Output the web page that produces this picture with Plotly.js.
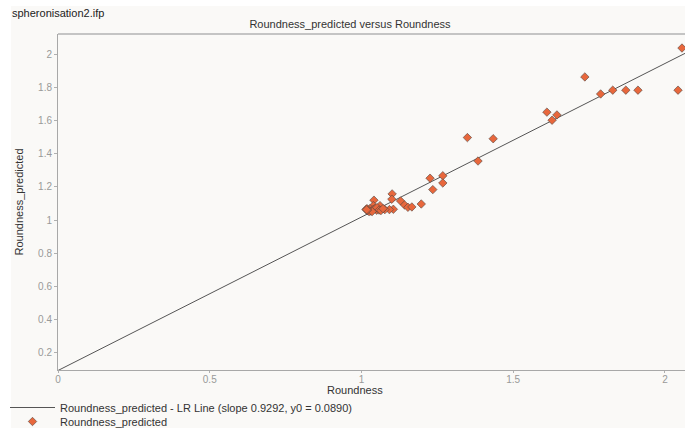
<!DOCTYPE html>
<html>
<head>
<meta charset="utf-8">
<script src="https://cdn.plot.ly/plotly-3.0.1.min.js"></script>
<style>html,body{margin:0;padding:0;background:#fff;}#chart{width:685px;height:428px;}</style>
</head>
<body>
<div id="chart"></div>
<script>
// Data
var roundness = [2.056, 2.043, 1.911, 1.871, 1.828, 1.788, 1.736, 1.644, 1.628, 1.611, 1.434, 1.349, 1.384, 1.268, 1.226, 1.268, 1.235, 1.197, 1.129, 1.101, 1.100, 1.142, 1.153, 1.166, 1.041, 1.105, 1.092, 1.077, 1.061, 1.039, 1.050, 1.015, 1.021, 1.028, 1.031, 1.038, 1.044, 1.051, 1.058, 1.064, 1.071, 1.025, 1.035, 1.018, 1.020, 1.017];
var roundnessPredicted = [2.041, 1.786, 1.786, 1.786, 1.786, 1.763, 1.866, 1.636, 1.604, 1.653, 1.492, 1.499, 1.357, 1.268, 1.253, 1.224, 1.184, 1.097, 1.115, 1.158, 1.126, 1.091, 1.077, 1.079, 1.120, 1.065, 1.063, 1.063, 1.087, 1.087, 1.059, 1.063, 1.057, 1.069, 1.054, 1.063, 1.069, 1.075, 1.060, 1.057, 1.069, 1.051, 1.051, 1.069, 1.060, 1.062];
var lrSlope = 0.9292;
var lrY0 = 0.0890;
var xRange = [0, 2.066];
var yRange = [0.092, 2.126];
var xTickVals = [0, 0.5, 1, 1.5, 2];
var xTickText = ['0', '0.5', '1', '1.5', '2'];
var yTickVals = [0.2, 0.4, 0.6, 0.8, 1, 1.2, 1.4, 1.6, 1.8, 2];
var yTickText = ['0.2', '0.4', '0.6', '0.8', '1', '1.2', '1.4', '1.6', '1.8', '2'];

var lineX = [xRange[0], xRange[1]];
var lineY = lineX.map(function (v) { return lrY0 + lrSlope * v; });

var FONT = 'Liberation Sans, Arial, sans-serif';

var traces = [
  {
    x: lineX, y: lineY, mode: 'lines', type: 'scatter',
    name: 'Roundness_predicted - LR Line (slope 0.9292, y0 = 0.0890)',
    legend: 'legend',
    line: {color: '#555555', width: 1}
  },
  {
    x: roundness, y: roundnessPredicted, mode: 'markers', type: 'scatter',
    name: 'Roundness_predicted',
    legend: 'legend2',
    cliponaxis: false,
    marker: {symbol: 'diamond', size: 6.5, color: '#e8673c', line: {color: 'rgba(80,70,65,0.85)', width: 0.7}}
  }
];

var W = 685, H = 428, L = 58, R = 0, T = 34, B = 58;
var pw = W - L - R, ph = H - T - B;
function px2x(p) { return (p - L) / pw; }
function py2y(p) { return (H - B - p) / ph; }

var legendBase = {
  xanchor: 'left', yanchor: 'top',
  bgcolor: 'rgba(0,0,0,0)', borderwidth: 0,
  font: {family: FONT, size: 11, color: '#333333'},
  itemwidth: 45
};

var layout = {
  width: W, height: H,
  margin: {l: L, r: R, t: T, b: B, pad: 0, autoexpand: false},
  paper_bgcolor: '#ffffff',
  plot_bgcolor: '#faf9f7',
  font: {family: FONT, size: 11, color: '#333333'},
  title: {text: 'Roundness_predicted versus Roundness', font: {family: FONT, size: 11, color: '#333333'},
          x: 350 / W, xref: 'container', xanchor: 'center', y: 1 - 24 / H, yref: 'container', yanchor: 'middle'},
  xaxis: {
    range: xRange, tickvals: xTickVals, ticktext: xTickText,
    showgrid: false, zeroline: false, showline: true, linecolor: '#a8a8a8', linewidth: 1,
    ticks: 'outside', ticklen: 2, tickcolor: '#b0b0b0', ticklabelstandoff: -2,
    tickfont: {family: FONT, size: 10, color: '#999999'}
  },
  yaxis: {
    range: yRange, tickvals: yTickVals, ticktext: yTickText,
    showgrid: false, zeroline: false, showline: true, linecolor: '#a8a8a8', linewidth: 1,
    ticks: 'outside', ticklen: 3, tickcolor: '#b0b0b0',
    tickfont: {family: FONT, size: 10, color: '#999999'},
    title: {text: 'Roundness_predicted', font: {family: FONT, size: 11, color: '#333333'}, standoff: 12}
  },
  showlegend: true,
  legend: Object.assign({}, legendBase, {x: px2x(5), y: py2y(393)}),
  legend2: Object.assign({}, legendBase, {x: px2x(5), y: py2y(407)}),
  shapes: [
    {type: 'rect', xref: 'paper', yref: 'paper', x0: px2x(11), x1: 1.01, y0: py2y(H + 2), y1: py2y(6),
     fillcolor: '#faf9f7', line: {width: 0}, layer: 'below'},
    {type: 'line', xref: 'paper', yref: 'paper', x0: 0, x1: 1, y0: 1, y1: 1,
     line: {color: '#c4c4c4', width: 2}}
  ],
  annotations: [
    {text: 'spheronisation2.ifp', xref: 'paper', yref: 'paper', x: px2x(10), y: py2y(13),
     xanchor: 'left', yanchor: 'middle', showarrow: false, font: {family: FONT, size: 11, color: '#222222'}},
    {text: 'Roundness', xref: 'paper', yref: 'paper', x: px2x(355), y: py2y(390),
     xanchor: 'center', yanchor: 'middle', showarrow: false, font: {family: FONT, size: 11, color: '#333333'}}
  ]
};

Plotly.newPlot('chart', traces, layout, {displayModeBar: false, staticPlot: true});
</script>
</body>
</html>
